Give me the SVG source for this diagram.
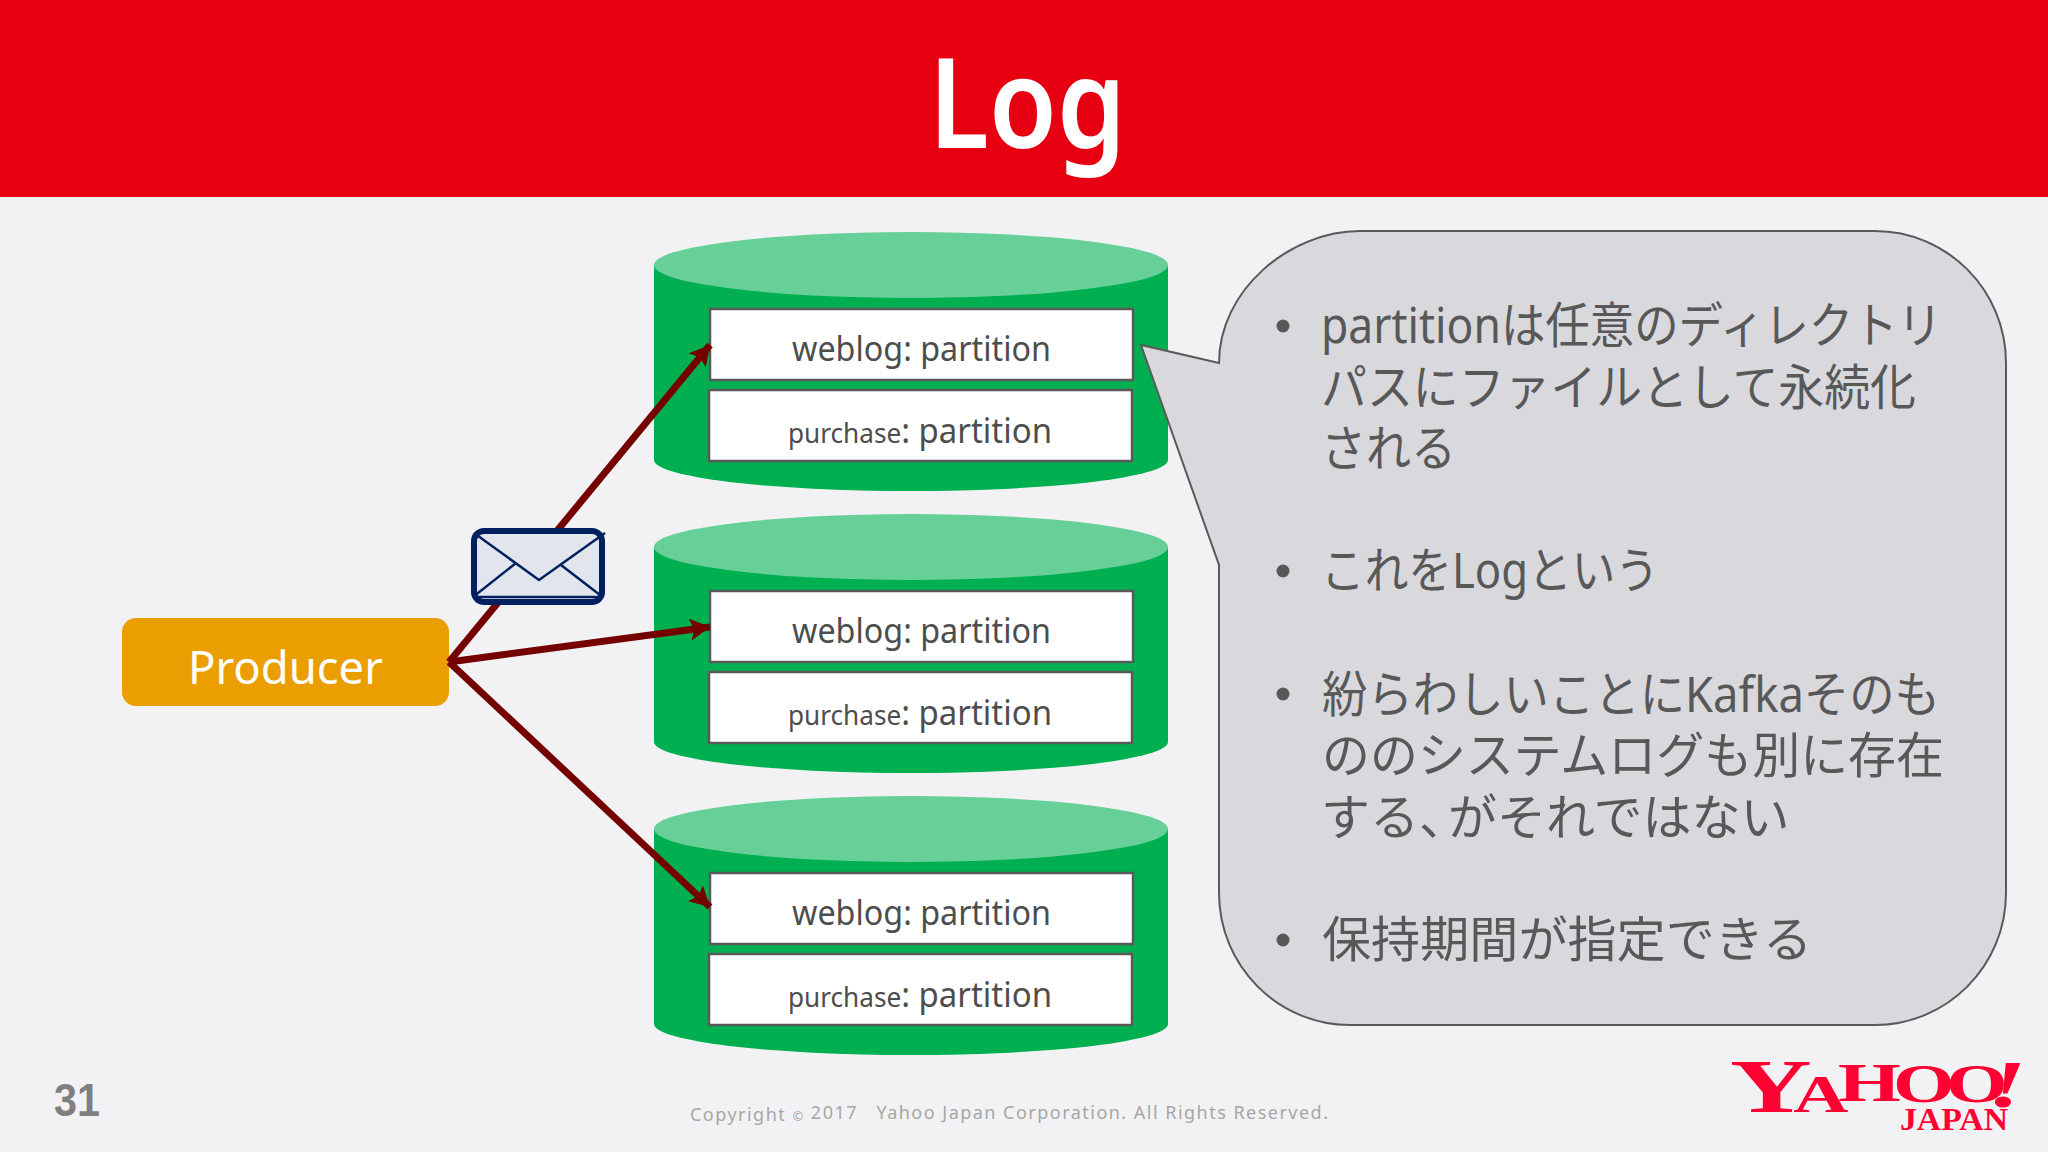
<svg xmlns="http://www.w3.org/2000/svg" width="2048" height="1152" viewBox="0 0 2048 1152">
<style>
text{font-family:"Noto Sans","Noto Sans CJK JP",sans-serif}
.box{fill:#fff;stroke:#595959;stroke-width:2.5}
.side{fill:#00af50}
.top{fill:#67cf98}
.pa{font-size:34px;fill:#4d4d4d}
.sm{font-size:27px}
.co{font-size:49px;fill:#585858}
.dot{fill:#585858}
.con{stroke:#750000;stroke-width:7;fill:none;marker-end:url(#ah)}
.env{fill:none;stroke:#002060;stroke-width:2.5}
.lg{font-family:"Liberation Serif",serif;font-weight:700;fill:#ff0033}
.cp{font-size:18px;fill:#a6a6a6;white-space:pre}
</style>
<defs>
<marker id="ah" markerUnits="userSpaceOnUse" markerWidth="22" markerHeight="22" refX="20" refY="11" orient="auto"><path d="M0 0L20 11L0 22L4 11Z" fill="#750000"/></marker>
<g id="cyl"><path class="side" d="M654 265V460A257 31 0 0 0 1168 460V265Z"/><ellipse class="top" cx="911" cy="265" rx="257" ry="33"/></g>
</defs>
<rect width="2048" height="1152" fill="#f2f2f4"/>
<rect id="header" width="2048" height="197" fill="#e60012"/>
<text x="929" y="148" font-size="124" font-weight="600" fill="#fff" textLength="197" lengthAdjust="spacingAndGlyphs">Log</text>
<g id="broker1"><use href="#cyl"/><rect class="box" x="710" y="309" width="423" height="71"/><rect class="box" x="709" y="390" width="423" height="71"/>
<text class="pa" x="792" y="361" textLength="259" lengthAdjust="spacingAndGlyphs">weblog: partition</text><text class="pa" x="788" y="443" textLength="264" lengthAdjust="spacingAndGlyphs"><tspan class="sm">purchase</tspan>: partition</text></g>
<g id="broker2"><use href="#cyl" y="282"/><rect class="box" x="710" y="591" width="423" height="71"/><rect class="box" x="709" y="672" width="423" height="71"/>
<text class="pa" x="792" y="643" textLength="259" lengthAdjust="spacingAndGlyphs">weblog: partition</text><text class="pa" x="788" y="725" textLength="264" lengthAdjust="spacingAndGlyphs"><tspan class="sm">purchase</tspan>: partition</text></g>
<g id="broker3"><use href="#cyl" y="564"/><rect class="box" x="710" y="873" width="423" height="71"/><rect class="box" x="709" y="954" width="423" height="71"/>
<text class="pa" x="792" y="925" textLength="259" lengthAdjust="spacingAndGlyphs">weblog: partition</text><text class="pa" x="788" y="1007" textLength="264" lengthAdjust="spacingAndGlyphs"><tspan class="sm">purchase</tspan>: partition</text></g>
<g id="callout"><path d="M1219 363C1219 290 1290 231 1360 231H1875C1947 231 2006 290 2006 363V893C2006 966 1947 1025 1875 1025H1350C1278 1025 1219 966 1219 893V565L1141 345Z" fill="#d9d9dd" stroke="#595959" stroke-width="2"/>
<circle class="dot" cx="1283" cy="326" r="6.5"/><circle class="dot" cx="1283" cy="571" r="6.5"/><circle class="dot" cx="1283" cy="694" r="6.5"/><circle class="dot" cx="1283" cy="940" r="6.5"/>
<text class="co" x="1321" y="343" textLength="621" lengthAdjust="spacingAndGlyphs">partitionは任意のディレクトリ</text>
<text class="co" x="1321" y="405" textLength="595" lengthAdjust="spacingAndGlyphs">パスにファイルとして永続化</text>
<text class="co" x="1321" y="466" textLength="135" lengthAdjust="spacingAndGlyphs">される</text>
<text class="co" x="1321" y="588" textLength="338" lengthAdjust="spacingAndGlyphs">これをLogという</text>
<text class="co" x="1322" y="712" textLength="618" lengthAdjust="spacingAndGlyphs">紛らわしいことにKafkaそのも</text>
<text class="co" x="1322" y="773" textLength="622" lengthAdjust="spacingAndGlyphs">ののシステムログも別に存在</text>
<text class="co" x="1321" y="835">する、<tspan dx="-20">がそれではない</tspan></text>
<text class="co" x="1322" y="957" textLength="490" lengthAdjust="spacingAndGlyphs">保持期間が指定できる</text></g>
<g id="producer"><rect x="122" y="618" width="327" height="88" rx="14" fill="#eb9e00"/><text x="188" y="684" font-size="45" fill="#fff" textLength="195" lengthAdjust="spacingAndGlyphs">Producer</text></g>
<g id="connectors"><path class="con" d="M449 662L710 345"/><path class="con" d="M449 662L710 627"/><path class="con" d="M449 662L710 907"/></g>
<g id="message"><rect x="474" y="531" width="128" height="71" rx="10" fill="#e3e5ec" stroke="#002060" stroke-width="6"/><path class="env" d="M474 533L539 580L605 533M473 597L516 563M600 595L561 565M473 597H603"/></g>
<g id="logo"><text class="lg" transform="translate(1730 1112) scale(1.47 1)"><tspan font-size="77">Y</tspan><tspan font-size="52" dx="-12.6">A</tspan><tspan font-size="55" dx="-7" dy="-11">H</tspan><tspan font-size="54" dx="-5.4" dy="1">O</tspan><tspan font-size="54" dx="-6">O</tspan><tspan font-size="68" font-style="italic" dx="-14" dy="5">!</tspan></text><text class="lg" x="1900" y="1130" font-size="31" textLength="108" lengthAdjust="spacingAndGlyphs">JAPAN</text></g>
<text x="54" y="1116" font-size="46" font-weight="700" fill="#7f7f7f" textLength="46" lengthAdjust="spacingAndGlyphs" style="font-family:'Liberation Sans',sans-serif">31</text>
<text class="cp" x="690" y="1121" textLength="638">Copyright <tspan font-size="13">©</tspan> <tspan dy="-2">2017   Yahoo Japan Corporation. All Rights Reserved.</tspan></text>
</svg>
